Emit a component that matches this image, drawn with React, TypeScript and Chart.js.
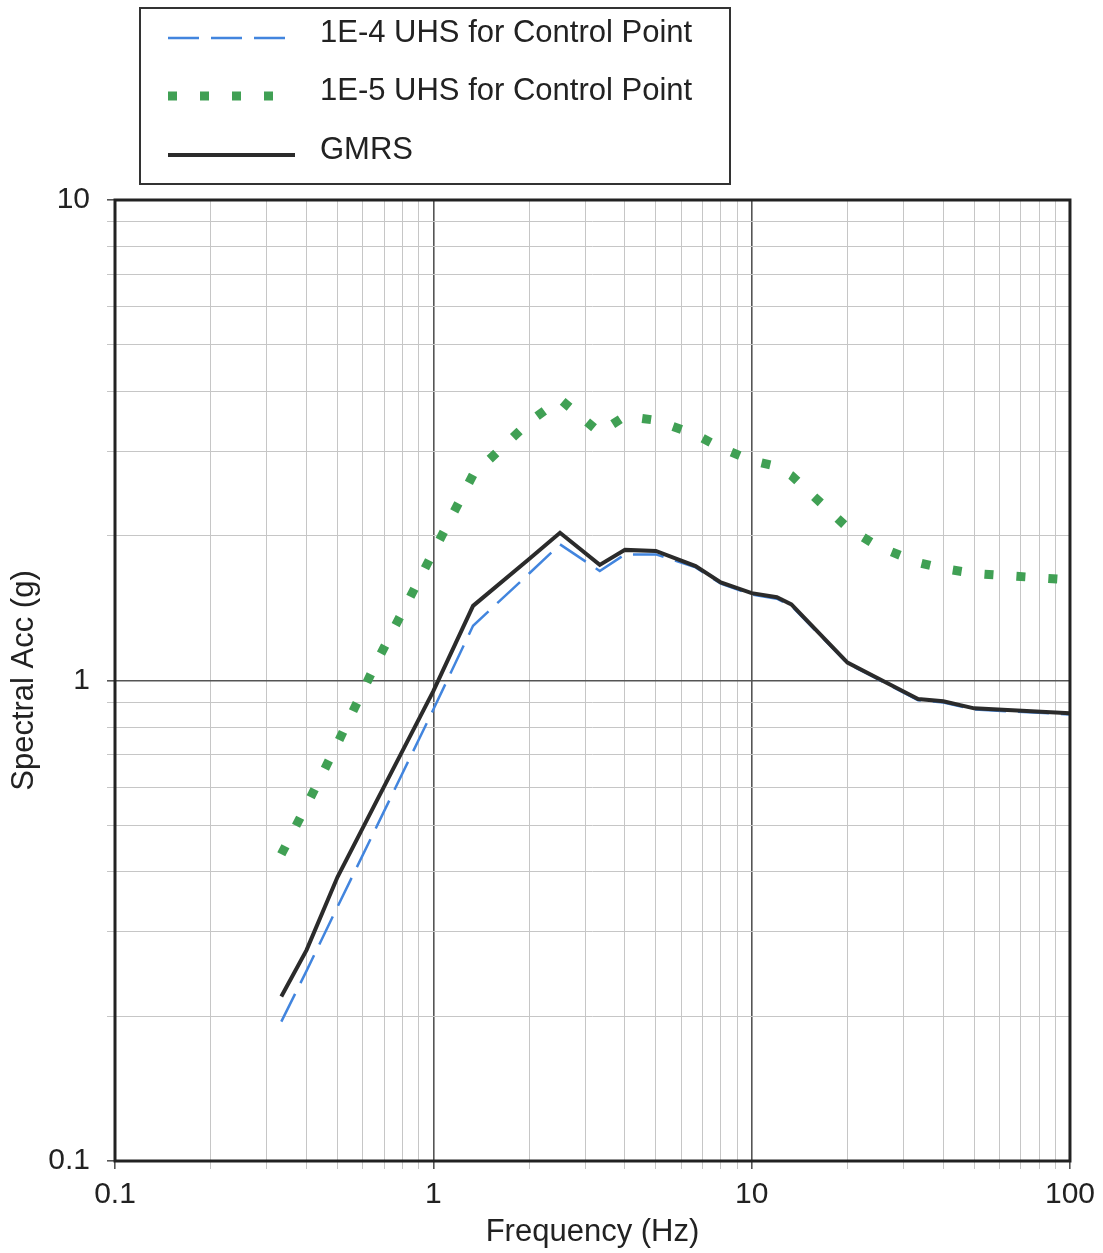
import React, { useEffect, useRef } from "react";
import { Chart, registerables } from "chart.js";

Chart.register(...registerables);

// ---- Data ----
const frequencies = [0.333, 0.4, 0.5, 0.667, 1, 1.333, 2, 2.5, 3.333, 4, 5, 6.667, 8, 10, 12, 13.33, 20, 25, 33.33, 40, 50, 100];
const uhs1e4 = [0.195, 0.249, 0.338, 0.5, 0.87, 1.3, 1.67, 1.92, 1.69, 1.83, 1.83, 1.72, 1.59, 1.51, 1.48, 1.43, 1.085, 1.005, 0.91, 0.9, 0.87, 0.85];
const uhs1e5 = [0.435, 0.55, 0.74, 1.1, 1.85, 2.68, 3.45, 3.85, 3.28, 3.55, 3.48, 3.25, 3.05, 2.87, 2.79, 2.67, 2.08, 1.9, 1.76, 1.71, 1.67, 1.62];
const gmrs = [0.22, 0.275, 0.39, 0.565, 0.95, 1.43, 1.79, 2.03, 1.74, 1.87, 1.86, 1.73, 1.6, 1.52, 1.49, 1.44, 1.09, 1.01, 0.915, 0.905, 0.875, 0.855];

const seriesNames = ["1E-4 UHS for Control Point", "1E-5 UHS for Control Point", "GMRS"];
const xTickLabels = ["0.1", "1", "10", "100"];
const yTickLabels = ["0.1", "1", "10"];
const decadeSteps = [1, 2, 3, 4, 5, 6, 7, 8, 9];
const xTitle = "Frequency (Hz)";
const yTitle = "Spectral Acc (g)";

const FONT = "'Liberation Sans', Arial, Helvetica, sans-serif";
const TEXT = "#222";
const MAJOR_GRID = "#555";
const MINOR_GRID = "#c6c6c6";

function gridValues(labels: string[]): number[] {
  const nums = labels.map((l) => parseFloat(l));
  const out: number[] = [];
  for (let i = 0; i < nums.length - 1; i++) {
    decadeSteps.forEach((m) => out.push(m * nums[i]));
  }
  out.push(nums[nums.length - 1]);
  return out;
}

function labelFor(v: number, labels: string[]): string {
  const hit = labels.find((l) => Math.abs(Math.log10(parseFloat(l)) - Math.log10(v)) < 1e-6);
  return hit ?? "";
}

const isMajor = (v: number, labels: string[]) => labelFor(v, labels) !== "";

const legendLineEnds = [285, 278, 295];

const framePlugin = {
  id: "frame",
  afterDraw(chart: any) {
    const { ctx, chartArea } = chart;
    ctx.save();
    ctx.strokeStyle = "#222";
    ctx.lineWidth = 3;
    ctx.strokeRect(chartArea.left, chartArea.top, chartArea.right - chartArea.left, chartArea.bottom - chartArea.top);
    ctx.restore();
  },
};

const boxLegendPlugin = {
  id: "boxLegend",
  afterDraw(chart: any) {
    const ctx = chart.ctx;
    ctx.save();
    ctx.strokeStyle = "#333";
    ctx.lineWidth = 2;
    ctx.strokeRect(140, 8, 590, 176);
    const rows = [33, 91, 150];
    chart.data.datasets.forEach((ds: any, i: number) => {
      const y = rows[i];
      ctx.beginPath();
      ctx.setLineDash(ds.borderDash || []);
      ctx.lineWidth = ds.borderWidth;
      ctx.strokeStyle = ds.borderColor;
      ctx.lineCap = "butt";
      ctx.moveTo(168, y + 5);
      ctx.lineTo(legendLineEnds[i], y + 5);
      ctx.stroke();
      ctx.setLineDash([]);
      ctx.fillStyle = TEXT;
      ctx.font = `31px ${FONT}`;
      ctx.textBaseline = "middle";
      ctx.textAlign = "left";
      ctx.fillText(ds.label, 320, y);
    });
    ctx.restore();
  },
};

export default function App() {
  const canvasRef = useRef<HTMLCanvasElement | null>(null);

  useEffect(() => {
    if (!canvasRef.current) return;
    const toPts = (vals: number[]) => frequencies.map((f, i) => ({ x: f, y: vals[i] }));

    const chart = new Chart(canvasRef.current, {
      type: "line",
      data: {
        datasets: [
          {
            label: seriesNames[0],
            data: toPts(uhs1e4),
            borderColor: "rgb(66,133,222)",
            borderWidth: 2.5,
            borderDash: [31, 12],
            pointRadius: 0,
            fill: false,
            order: 1,
          },
          {
            label: seriesNames[1],
            data: toPts(uhs1e5),
            borderColor: "rgb(64,160,84)",
            borderWidth: 9,
            borderDash: [9, 23],
            borderCapStyle: "butt",
            pointRadius: 0,
            fill: false,
            order: 2,
          },
          {
            label: seriesNames[2],
            data: toPts(gmrs),
            borderColor: "#2b2b2b",
            borderWidth: 4,
            pointRadius: 0,
            fill: false,
            order: 0,
          },
        ],
      },
      options: {
        responsive: false,
        animation: false,
        parsing: false as any,
        layout: { padding: { left: 0, top: 200, right: 32, bottom: 0 } },
        plugins: { legend: { display: false }, tooltip: { enabled: false } },
        elements: { line: { tension: 0 }, point: { radius: 0 } },
        scales: {
          x: {
            type: "logarithmic",
            min: 0.1,
            max: 100,
            afterBuildTicks: (s: any) => {
              s.ticks = gridValues(xTickLabels).map((v) => ({ value: v, major: isMajor(v, xTickLabels) }));
            },
            afterFit: (s: any) => {
              s.height = 92;
            },
            ticks: {
              autoSkip: false,
              maxRotation: 0,
              minRotation: 0,
              padding: 8,
              color: TEXT,
              font: { family: FONT, size: 30 },
              callback: (v: any) => labelFor(Number(v), xTickLabels),
            },
            grid: {
              color: (c: any) => (isMajor(c.tick.value, xTickLabels) ? MAJOR_GRID : MINOR_GRID),
              lineWidth: (c: any) => (isMajor(c.tick.value, xTickLabels) ? 1.6 : 1),
              tickLength: 8,
              tickColor: (c: any) => (isMajor(c.tick.value, xTickLabels) ? MAJOR_GRID : MINOR_GRID),
            },
            border: { display: false },
            title: {
              display: true,
              text: xTitle,
              color: TEXT,
              font: { family: FONT, size: 31 },
              padding: { top: 0, bottom: 2 },
            },
          },
          y: {
            type: "logarithmic",
            min: 0.1,
            max: 10,
            afterBuildTicks: (s: any) => {
              s.ticks = gridValues(yTickLabels).map((v) => ({ value: v, major: isMajor(v, yTickLabels) }));
            },
            afterFit: (s: any) => {
              s.width = 115;
            },
            ticks: {
              autoSkip: false,
              padding: 17,
              color: TEXT,
              font: { family: FONT, size: 30 },
              callback: (v: any) => labelFor(Number(v), yTickLabels),
            },
            grid: {
              color: (c: any) => (isMajor(c.tick.value, yTickLabels) ? MAJOR_GRID : MINOR_GRID),
              lineWidth: (c: any) => (isMajor(c.tick.value, yTickLabels) ? 1.6 : 1),
              tickLength: 8,
              tickColor: (c: any) => (isMajor(c.tick.value, yTickLabels) ? MAJOR_GRID : MINOR_GRID),
            },
            border: { display: false },
            title: {
              display: true,
              text: yTitle,
              color: TEXT,
              font: { family: FONT, size: 31 },
              padding: { top: 6, bottom: 0 },
            },
          },
        },
      },
      plugins: [framePlugin, boxLegendPlugin],
    } as any);

    return () => chart.destroy();
  }, []);

  return (
    <div style={{ position: "absolute", left: 0, top: 0, width: 1103, height: 1253, background: "#fff" }}>
      <canvas ref={canvasRef} width={1103} height={1253} style={{ display: "block" }} />
    </div>
  );
}
